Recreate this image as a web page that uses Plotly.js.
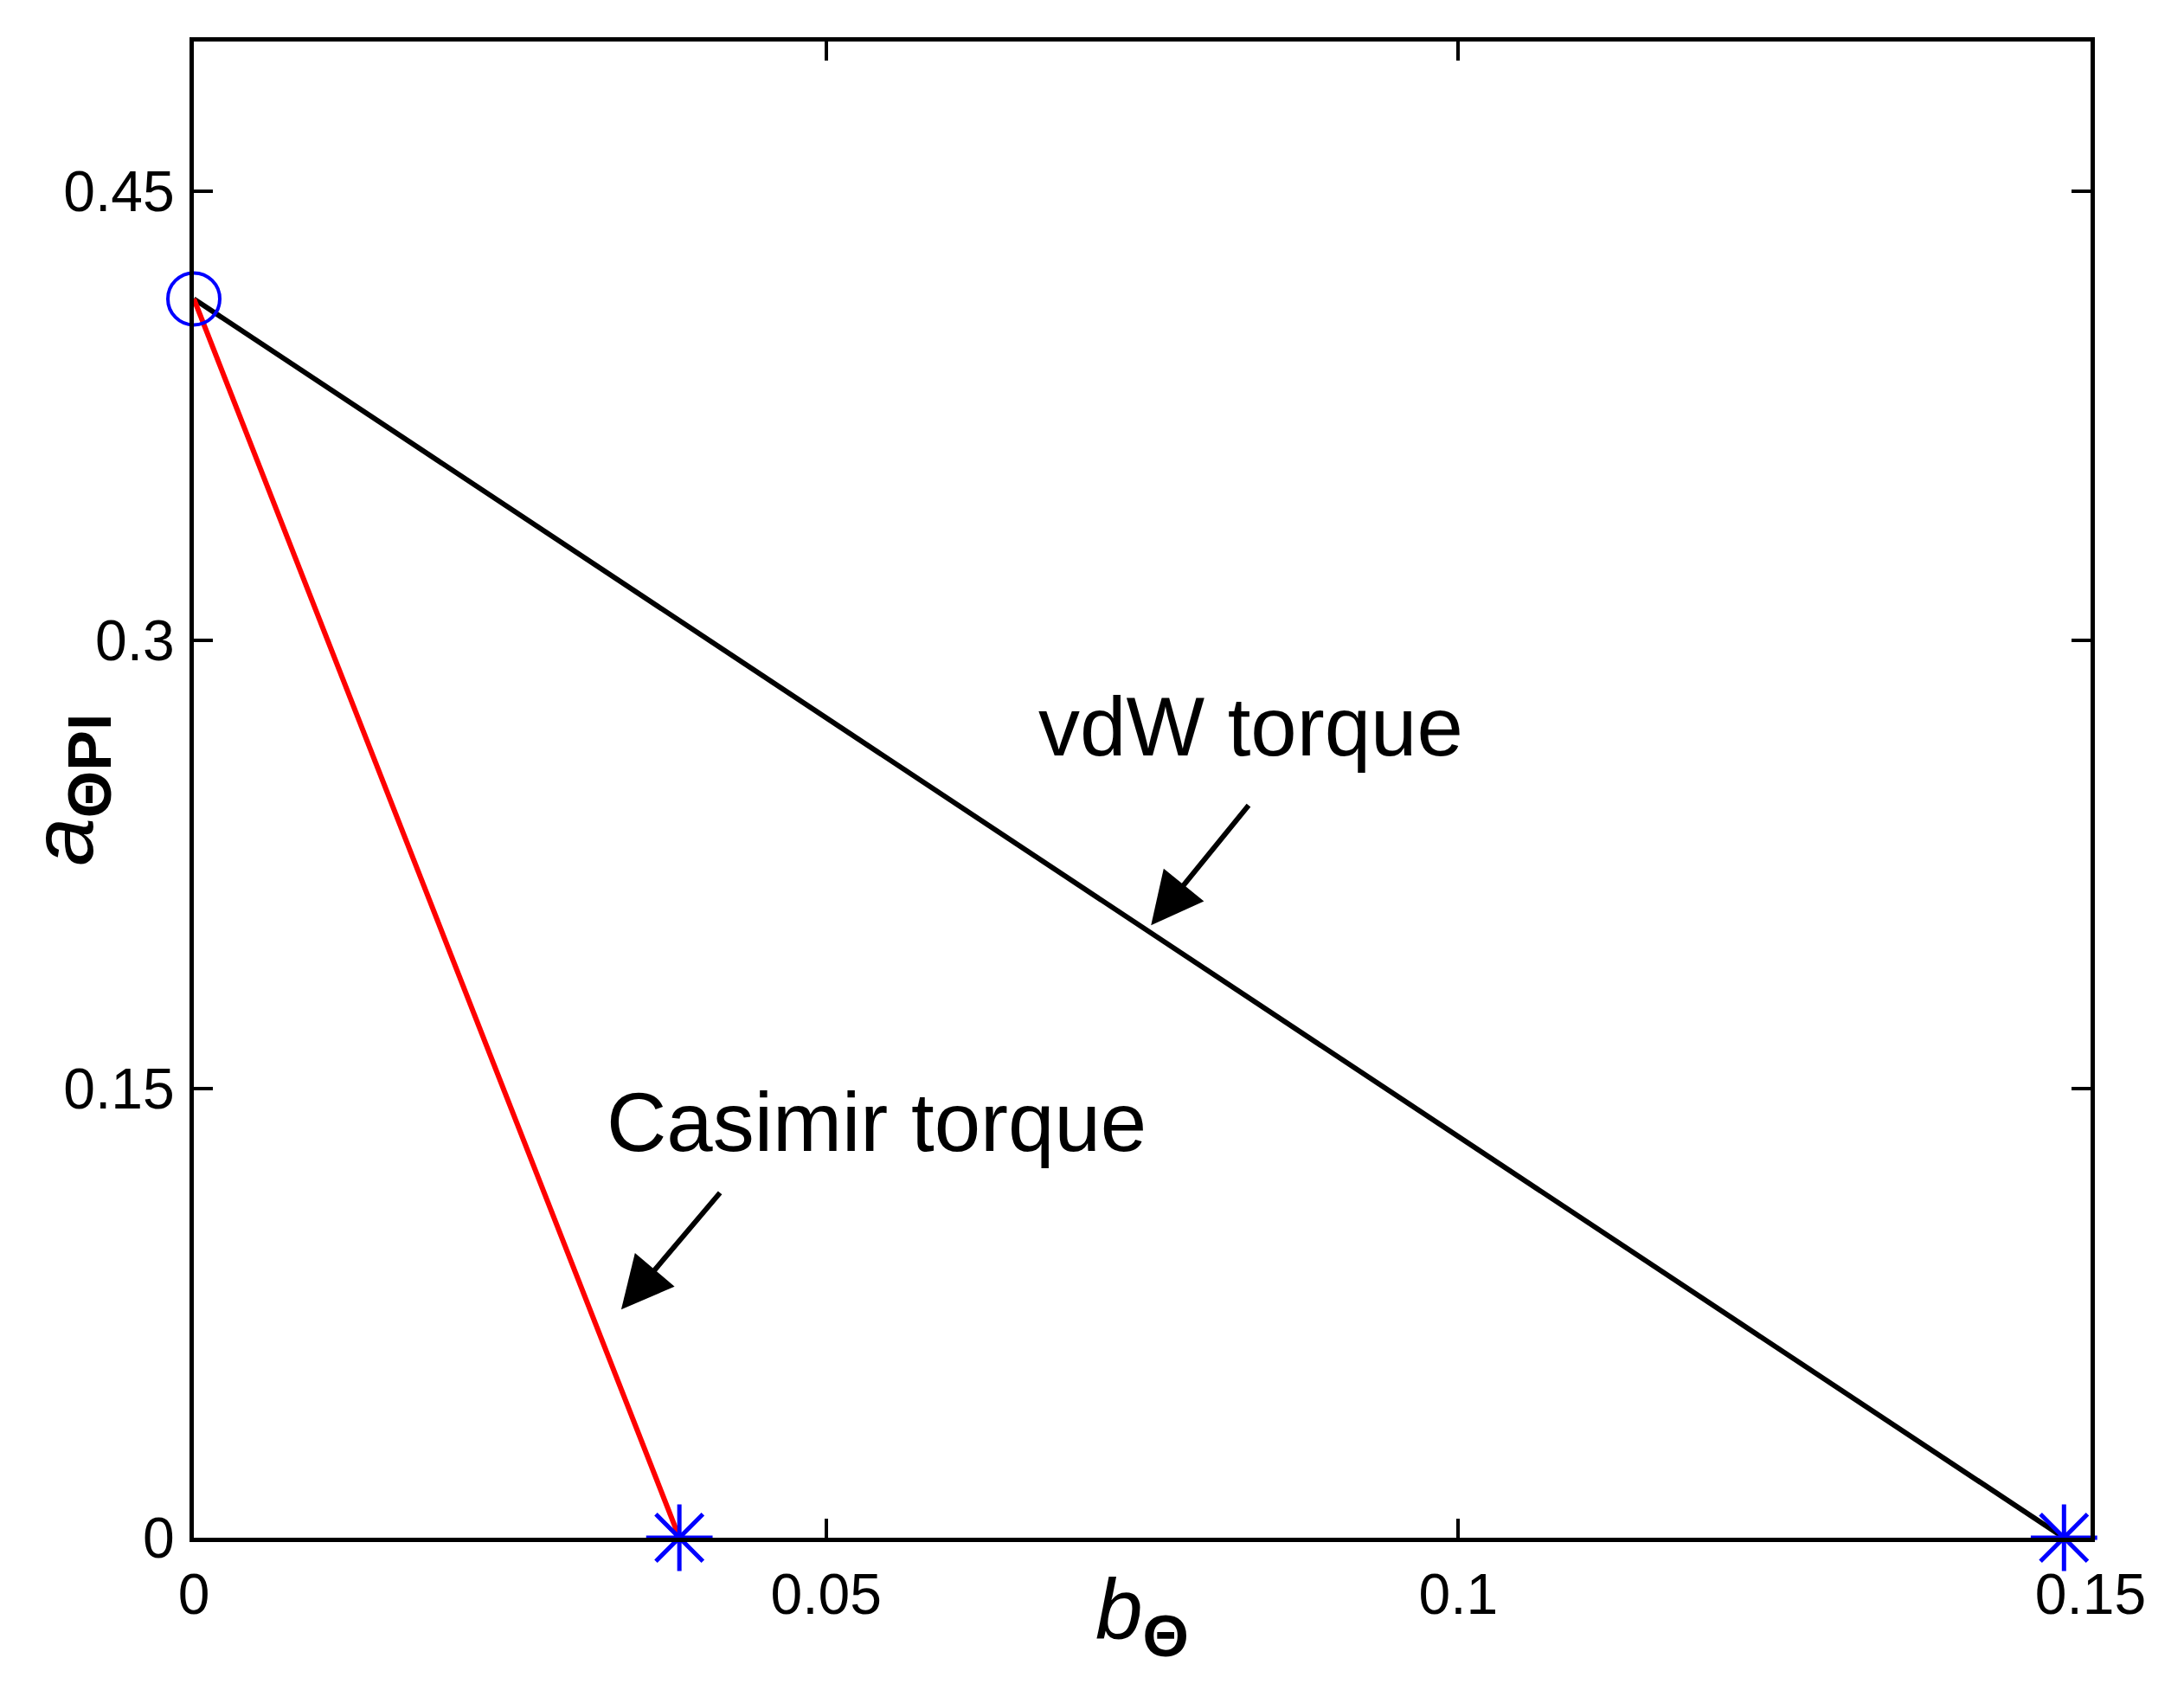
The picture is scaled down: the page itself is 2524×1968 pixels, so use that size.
<!DOCTYPE html>
<html>
<head>
<meta charset="utf-8">
<script src="https://cdn.plot.ly/plotly-3.0.1.min.js"></script>
<style>
  html, body { margin: 0; padding: 0; background: #fff; }
  #chart { width: 2524px; height: 1968px; }
</style>
</head>
<body>
<div id="chart"></div>
<script>
// line end points
var casimirB = [0, 0.0384];
var casimirA = [0.414, 0];
var vdwB = [0, 0.1479];
var vdwA = [0.414, 0];

// markers: circle at the common start, stars at the two ends
var startB = [0];
var startA = [0.414];
var endB = [0.0384, 0.1479];
var endA = [0, 0];

// ticks
var xTicks = [0, 0.05, 0.1, 0.15];
var xTickText = ["0", "0.05", "0.1", "0.15"];
var yTicks = [0, 0.15, 0.3, 0.45];
var yTickText = ["0", "0.15", "0.3", "0.45"];

// labels with their arrows (text position, arrow head, arrow tail)
var labelText = ["vdW torque", "Casimir torque"];
var labelX = [0.0836, 0.054];
var labelY = [0.271, 0.139];
var headX = [0.0757, 0.0338];
var headY = [0.2047, 0.0763];
var tailX = [0.0835, 0.0417];
var tailY = [0.2452, 0.1157];

var font = 'Liberation Sans, Arial, sans-serif';

var traces = [
    {
        x: vdwB, y: vdwA, type: 'scatter', mode: 'lines',
        line: { color: '#000000', width: 6 }
    },
    {
        x: casimirB, y: casimirA, type: 'scatter', mode: 'lines',
        line: { color: '#ff0000', width: 6 }
    },
    {
        x: startB, y: startA, type: 'scatter', mode: 'markers', cliponaxis: false,
        marker: { symbol: 'circle-open', size: 60, color: '#0000ff', line: { color: '#0000ff', width: 4 } }
    },
    {
        x: endB, y: endA, type: 'scatter', mode: 'markers', cliponaxis: false,
        marker: { symbol: 'asterisk-open', size: 64, color: '#0000ff', line: { color: '#0000ff', width: 5 } }
    }
];

var annotations = [];
for (var i = 0; i < labelText.length; i++) {
    // the label
    annotations.push({
        x: labelX[i], y: labelY[i], xref: 'x', yref: 'y',
        text: labelText[i], showarrow: false,
        xanchor: 'center', yanchor: 'middle',
        font: { family: font, size: 96, color: '#000' }
    });
    // its arrow, drawn from tail to head in data units
    annotations.push({
        x: headX[i], y: headY[i], xref: 'x', yref: 'y',
        ax: tailX[i], ay: tailY[i], axref: 'x', ayref: 'y',
        text: '', showarrow: true,
        arrowhead: 2, arrowsize: 2.0, arrowwidth: 6, arrowcolor: '#000'
    });
}

// axis titles as annotations so they sit where the original has them
annotations.push({
    x: 0.5, y: -0.052, xref: 'paper', yref: 'paper',
    text: '<i>b</i><sub><b>Θ</b></sub>', showarrow: false,
    xanchor: 'center', yanchor: 'middle',
    font: { family: font, size: 98, color: '#000' }
});
annotations.push({
    x: -0.066, y: 0.5, xref: 'paper', yref: 'paper',
    text: '<i>a</i><sub><b>ΘPI</b></sub>', showarrow: false, textangle: -90,
    xanchor: 'center', yanchor: 'middle',
    font: { family: font, size: 100, color: '#000' }
});

var axisCommon = {
    showgrid: false, zeroline: false,
    showline: true, linecolor: '#000', linewidth: 5, mirror: 'ticks',
    ticks: 'inside', ticklen: 22, tickwidth: 4, tickcolor: '#000',
    tickmode: 'array',
    tickfont: { family: font, size: 66, color: '#000' }
};

var layout = {
    width: 2524, height: 1968,
    margin: { l: 224, r: 108, t: 48, b: 191 },
    paper_bgcolor: '#fff', plot_bgcolor: '#fff',
    showlegend: false,
    xaxis: Object.assign({}, axisCommon, {
        range: [0, 0.15], tickvals: xTicks, ticktext: xTickText, ticklabelstandoff: 4
    }),
    yaxis: Object.assign({}, axisCommon, {
        range: [0, 0.5], tickvals: yTicks, ticktext: yTickText, ticklabelstandoff: 4
    }),
    annotations: annotations
};

Plotly.newPlot('chart', traces, layout, { displayModeBar: false, staticPlot: true });
</script>
</body>
</html>
